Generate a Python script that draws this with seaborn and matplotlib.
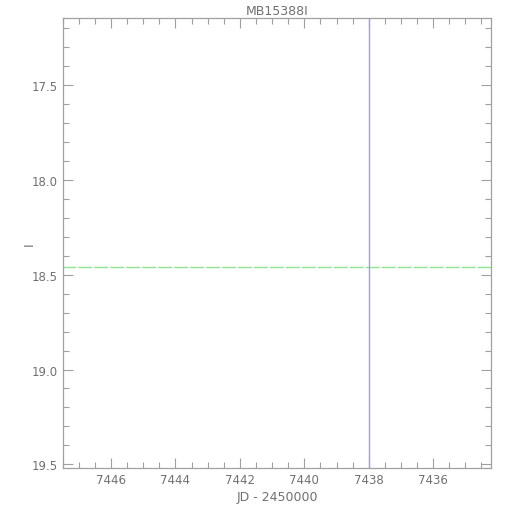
import matplotlib
matplotlib.use('Agg')
import matplotlib.pyplot as plt
import seaborn as sns
from matplotlib.ticker import MultipleLocator, FormatStrFormatter

# Light curve of MB15388I: only the baseline and the peak time are shown
title = 'MB15388I'
baseline_mag = [18.458]
peak_jd = [7437.98]
jd_range = [7447.5, 7434.2]     # reversed axis
mag_range = [19.52, 17.147]     # inverted magnitude axis

sns.set_style('white')
plt.rcParams['font.family'] = ['DejaVu Sans']
gray = '#707070'
axis_gray = '#a0a0a0'

fig, ax = plt.subplots(figsize=(5.1, 5.1), dpi=100)
fig.subplots_adjust(left=0.123, right=0.963, top=0.963, bottom=0.08)

# baseline (faint dashed green) and peak time (blue)
sns.lineplot(x=jd_range, y=baseline_mag * 2, ax=ax, color='#8ee68e',
             linewidth=1.0, linestyle=(0, (10, 1.5)))
for t in peak_jd:
    ax.axvline(t, color='#9999ff', linewidth=1.0)

ax.set_xlim(jd_range)
ax.set_ylim(mag_range)

ax.xaxis.set_major_locator(MultipleLocator(2))
ax.xaxis.set_minor_locator(MultipleLocator(0.5))
ax.yaxis.set_major_locator(MultipleLocator(0.5))
ax.yaxis.set_minor_locator(MultipleLocator(0.1))
ax.tick_params(which='both', direction='in', top=True, right=True,
               bottom=True, left=True, color=axis_gray, labelcolor=gray,
               labelsize=8.5, width=0.8)
ax.tick_params(which='major', length=7)
ax.tick_params(which='minor', length=4)
ax.yaxis.set_major_formatter(FormatStrFormatter('%.1f'))
ax.xaxis.set_major_formatter(FormatStrFormatter('%d'))

for s in ax.spines.values():
    s.set_color(axis_gray)
    s.set_linewidth(0.9)

ax.set_title(title, color=gray, fontsize=9, pad=3)
ax.set_xlabel('JD - 2450000', color=gray, fontsize=9, labelpad=3)
ax.set_ylabel('I', color=gray, fontsize=9)
ax.yaxis.set_label_coords(-0.062, 0.5)

fig.savefig('out.png', dpi=100, facecolor='white')
